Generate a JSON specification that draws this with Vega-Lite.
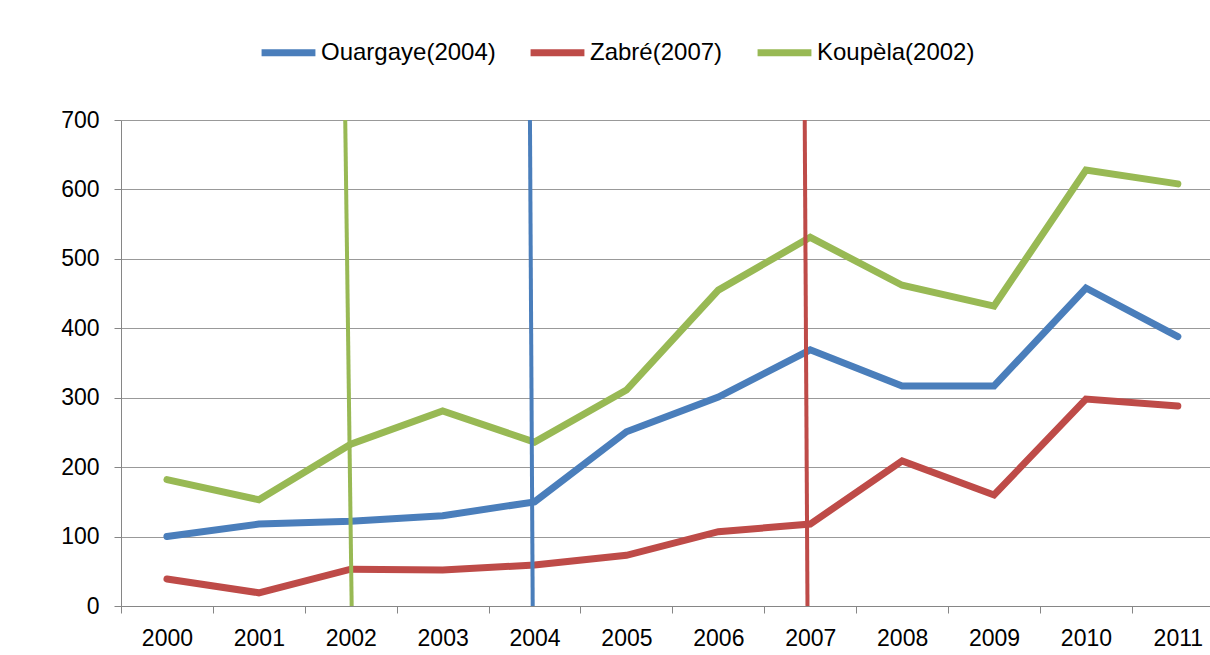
{
  "$schema": "https://vega.github.io/schema/vega-lite/v6.json",
  "width": 1089,
  "height": 486,
  "autosize": {"type": "none"},
  "padding": {"left": 121, "top": 120, "right": 0, "bottom": 49},
  "background": "white",
  "config": {"view": {"stroke": null}, "font": "Liberation Sans"},
  "datasets": {
    "series": [
      {"year": 2000, "series": "Ouargaye(2004)", "value": 100},
      {"year": 2001, "series": "Ouargaye(2004)", "value": 118},
      {"year": 2002, "series": "Ouargaye(2004)", "value": 122},
      {"year": 2003, "series": "Ouargaye(2004)", "value": 130},
      {"year": 2004, "series": "Ouargaye(2004)", "value": 150},
      {"year": 2005, "series": "Ouargaye(2004)", "value": 251},
      {"year": 2006, "series": "Ouargaye(2004)", "value": 301},
      {"year": 2007, "series": "Ouargaye(2004)", "value": 369},
      {"year": 2008, "series": "Ouargaye(2004)", "value": 317},
      {"year": 2009, "series": "Ouargaye(2004)", "value": 317},
      {"year": 2010, "series": "Ouargaye(2004)", "value": 458},
      {"year": 2011, "series": "Ouargaye(2004)", "value": 388},
      {"year": 2000, "series": "Zabré(2007)", "value": 39},
      {"year": 2001, "series": "Zabré(2007)", "value": 19},
      {"year": 2002, "series": "Zabré(2007)", "value": 53},
      {"year": 2003, "series": "Zabré(2007)", "value": 52},
      {"year": 2004, "series": "Zabré(2007)", "value": 59},
      {"year": 2005, "series": "Zabré(2007)", "value": 73},
      {"year": 2006, "series": "Zabré(2007)", "value": 107},
      {"year": 2007, "series": "Zabré(2007)", "value": 118},
      {"year": 2008, "series": "Zabré(2007)", "value": 209},
      {"year": 2009, "series": "Zabré(2007)", "value": 160},
      {"year": 2010, "series": "Zabré(2007)", "value": 298},
      {"year": 2011, "series": "Zabré(2007)", "value": 288},
      {"year": 2000, "series": "Koupèla(2002)", "value": 182},
      {"year": 2001, "series": "Koupèla(2002)", "value": 153},
      {"year": 2002, "series": "Koupèla(2002)", "value": 233},
      {"year": 2003, "series": "Koupèla(2002)", "value": 281},
      {"year": 2004, "series": "Koupèla(2002)", "value": 236},
      {"year": 2005, "series": "Koupèla(2002)", "value": 311},
      {"year": 2006, "series": "Koupèla(2002)", "value": 455},
      {"year": 2007, "series": "Koupèla(2002)", "value": 531},
      {"year": 2008, "series": "Koupèla(2002)", "value": 462},
      {"year": 2009, "series": "Koupèla(2002)", "value": 432},
      {"year": 2010, "series": "Koupèla(2002)", "value": 628},
      {"year": 2011, "series": "Koupèla(2002)", "value": 608}
    ],
    "markers": [
      {"series": "Koupèla(2002)", "year_top": 2001.94, "year_bottom": 2002.01},
      {"series": "Ouargaye(2004)", "year_top": 2003.95, "year_bottom": 2003.98},
      {"series": "Zabré(2007)", "year_top": 2006.94, "year_bottom": 2006.97}
    ]
  },
  "layer": [
    {
      "data": {"name": "series"},
      "mark": {"type": "line", "strokeWidth": 7, "strokeCap": "round"},
      "encoding": {
        "x": {
          "field": "year", "type": "quantitative",
          "scale": {"domain": [1999.5, 2011.35], "nice": false, "zero": false},
          "axis": {
            "values": [2000, 2001, 2002, 2003, 2004, 2005, 2006, 2007, 2008, 2009, 2010, 2011],
            "format": "d", "title": null, "grid": false,
            "tickOffset": -46, "labelOffset": 46,
            "domainColor": "#868686", "tickColor": "#868686", "tickSize": 7,
            "labelFontSize": 23, "labelColor": "#000000", "labelPadding": 14,
            "labelFlush": false, "labelOverlap": false
          }
        },
        "y": {
          "field": "value", "type": "quantitative",
          "scale": {"domain": [0, 700], "nice": false},
          "axis": {
            "values": [0, 100, 200, 300, 400, 500, 600, 700],
            "title": null, "grid": true, "gridColor": "#999999", "gridOpacity": 1,
            "domainColor": "#868686", "tickColor": "#868686", "tickSize": 7,
            "labelFontSize": 23, "labelColor": "#000000", "labelPadding": 15
          }
        },
        "color": {
          "field": "series", "type": "nominal",
          "scale": {
            "domain": ["Ouargaye(2004)", "Zabré(2007)", "Koupèla(2002)"],
            "range": ["#4A7EBB", "#BE4B48", "#98B954"]
          },
          "legend": {
            "orient": "none", "legendX": 137, "legendY": -98,
            "direction": "horizontal", "title": null,
            "symbolType": "stroke", "symbolStrokeWidth": 7, "symbolSize": 2900,
            "labelFontSize": 24, "labelColor": "#000000", "labelOffset": 2,
            "columnPadding": 20, "labelLimit": 0
          }
        }
      }
    },
    {
      "data": {"name": "markers"},
      "mark": {"type": "rule", "strokeWidth": 4},
      "encoding": {
        "x": {"field": "year_top", "type": "quantitative"},
        "x2": {"field": "year_bottom"},
        "y": {"datum": 700},
        "y2": {"datum": 0},
        "color": {"field": "series", "type": "nominal"}
      }
    }
  ]
}
